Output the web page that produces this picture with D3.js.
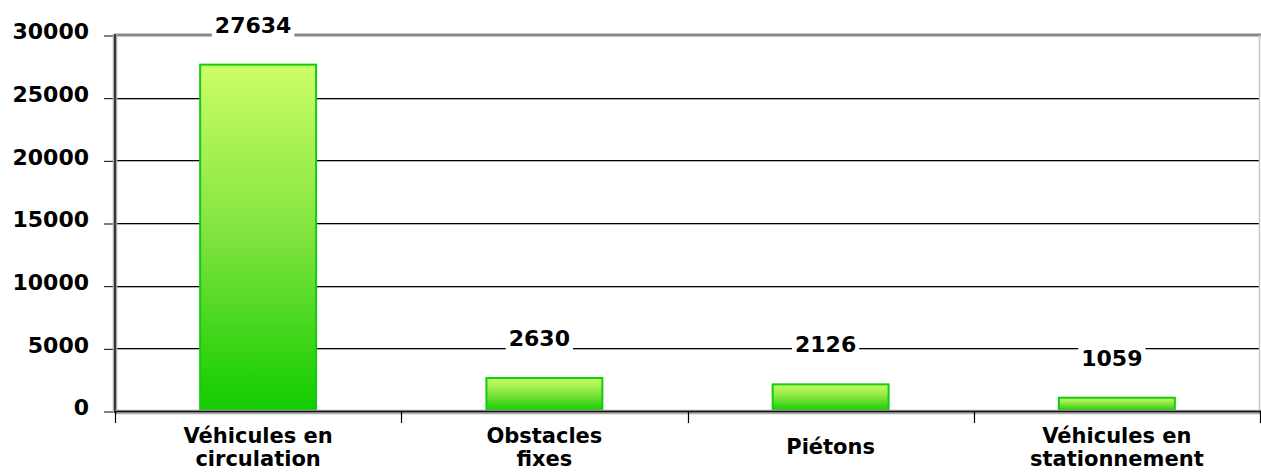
<!DOCTYPE html>
<html>
<head>
<meta charset="utf-8">
<script src="https://cdn.jsdelivr.net/npm/d3@7/dist/d3.min.js"></script>
<style>
  html, body { margin: 0; padding: 0; background: #fff; }
  svg { display: block; }
  text { font-family: "Comic Sans MS", "DejaVu Sans", sans-serif; font-weight: bold; fill: #000; }
</style>
</head>
<body>
<svg id="chart" width="1261" height="474"></svg>
<script>
// Accidents by type of obstacle hit
const categories = [
  ["Véhicules en", "circulation"],
  ["Obstacles", "fixes"],
  ["Piétons"],
  ["Véhicules en", "stationnement"]
];
const values = [27634, 2630, 2126, 1059];
const yTicks = [0, 5000, 10000, 15000, 20000, 25000, 30000];

(function () {
const svg = d3.select("#chart");
const plotLeft = 115, plotRight = 1260, plotTop = 35, plotBottom = 411;

const x = d3.scaleBand()
  .domain(d3.range(values.length))
  .range([plotLeft, plotRight])
  .padding(0);
const y = d3.scaleLinear().domain([0, 30000]).range([plotBottom, plotTop]);

const barFrac = 0.405;
const bw = x.bandwidth() * barFrac;

// bar fill gradient (light lime at the top, deep green at the bottom)
const defs = svg.append("defs");
const grad = defs.append("linearGradient")
  .attr("id", "barGrad").attr("x1", 0).attr("y1", 0).attr("x2", 0).attr("y2", 1);
grad.append("stop").attr("offset", "0%").attr("stop-color", "#ccff66");
grad.append("stop").attr("offset", "50%").attr("stop-color", "#7fe33d");
grad.append("stop").attr("offset", "100%").attr("stop-color", "#11cc00");

// horizontal gridlines
const inner = yTicks.filter(t => t > 0 && t < 30000);
svg.append("g").selectAll("line").data(inner).join("line")
  .attr("x1", plotLeft).attr("x2", plotRight)
  .attr("y1", d => Math.round(y(d)) + 1.5).attr("y2", d => Math.round(y(d)) + 1.5)
  .attr("stroke", "#b0b0b0").attr("stroke-width", 1);
svg.append("g").selectAll("line").data(inner).join("line")
  .attr("x1", plotLeft).attr("x2", plotRight)
  .attr("y1", d => Math.round(y(d)) + 0.5).attr("y2", d => Math.round(y(d)) + 0.5)
  .attr("stroke", "#000").attr("stroke-width", 1);

// top frame line and right edge
svg.append("line")
  .attr("x1", plotLeft).attr("x2", plotRight + 1)
  .attr("y1", y(30000)).attr("y2", y(30000))
  .attr("stroke", "#888").attr("stroke-width", 3);
svg.append("line")
  .attr("x1", plotRight - 0.5).attr("x2", plotRight - 0.5)
  .attr("y1", y(30000)).attr("y2", plotBottom)
  .attr("stroke", "#c8c8c8").attr("stroke-width", 1.5);

// y-axis tick marks and labels
const yAxis = d3.axisLeft(y).tickValues(yTicks).tickSize(11).tickPadding(15).tickFormat(d3.format("d"));
const gy = svg.append("g").attr("transform", `translate(${plotLeft},0)`).call(yAxis);
gy.select(".domain").remove();
gy.selectAll(".tick line").attr("stroke", "#000").attr("stroke-width", 1)
  .attr("transform", "translate(0,0.5)");
gy.selectAll(".tick text")
  .attr("font-size", 22)
  .attr("font-family", "'Comic Sans MS', 'DejaVu Sans', sans-serif")
  .attr("font-weight", "bold")
  .attr("fill", "#000")
  .attr("dy", "0.18em");

// bars
svg.append("g").selectAll("rect").data(values).join("rect")
  .attr("x", (d, i) => x(i) + (x.bandwidth() - bw) / 2)
  .attr("y", d => y(d))
  .attr("width", bw)
  .attr("height", d => plotBottom - y(d))
  .attr("fill", "url(#barGrad)")
  .attr("stroke", "#11cc11")
  .attr("stroke-width", 2);

// left axis line with soft halo
svg.append("line").attr("x1", plotLeft).attr("x2", plotLeft).attr("y1", plotTop - 1).attr("y2", plotBottom + 2)
  .attr("stroke", "#aaa").attr("stroke-width", 4.5);
svg.append("line").attr("x1", plotLeft).attr("x2", plotLeft).attr("y1", plotTop - 1).attr("y2", plotBottom + 2)
  .attr("stroke", "#111").attr("stroke-width", 1.5);

// baseline with soft halo
svg.append("line").attr("x1", plotLeft).attr("x2", plotRight + 1).attr("y1", plotBottom + 1).attr("y2", plotBottom + 1)
  .attr("stroke", "#aaa").attr("stroke-width", 4.5);
svg.append("line").attr("x1", plotLeft).attr("x2", plotRight + 1).attr("y1", plotBottom + 0.5).attr("y2", plotBottom + 0.5)
  .attr("stroke", "#111").attr("stroke-width", 1.5);

// x-axis tick marks at band boundaries
const bounds = d3.range(values.length + 1).map(i => plotLeft + i * x.step());
svg.append("g").selectAll("line").data(bounds).join("line")
  .attr("x1", d => Math.round(d) + 0.5).attr("x2", d => Math.round(d) + 0.5)
  .attr("y1", plotBottom).attr("y2", plotBottom + 12)
  .attr("stroke", "#000").attr("stroke-width", 1.2);

// category labels
const cat = svg.append("g").selectAll("text").data(categories).join("text")
  .attr("text-anchor", "middle")
  .attr("font-size", 21)
  .attr("x", (d, i) => x(i) + x.bandwidth() / 2)
  .attr("y", d => d.length === 1 ? 454 : 443);
cat.selectAll("tspan").data(d => d).join("tspan")
  .attr("x", function () { return this.parentNode.getAttribute("x"); })
  .attr("dy", (d, j) => j === 0 ? 0 : 23)
  .text(d => d);

// value labels on a white backing
const lab = svg.append("g").selectAll("g").data(values).join("g");
lab.append("rect").attr("fill", "#fff");
lab.append("text")
  .attr("text-anchor", "middle")
  .attr("font-size", 22)
  .attr("x", (d, i) => x(i) + x.bandwidth() / 2 - 5)
  .attr("y", d => y(d) - 32)
  .text(d => d);
lab.each(function () {
  const g = d3.select(this);
  const b = g.select("text").node().getBBox();
  g.select("rect")
    .attr("x", b.x - 3).attr("y", b.y)
    .attr("width", b.width + 6).attr("height", b.height);
});
})();
</script>
</body>
</html>
